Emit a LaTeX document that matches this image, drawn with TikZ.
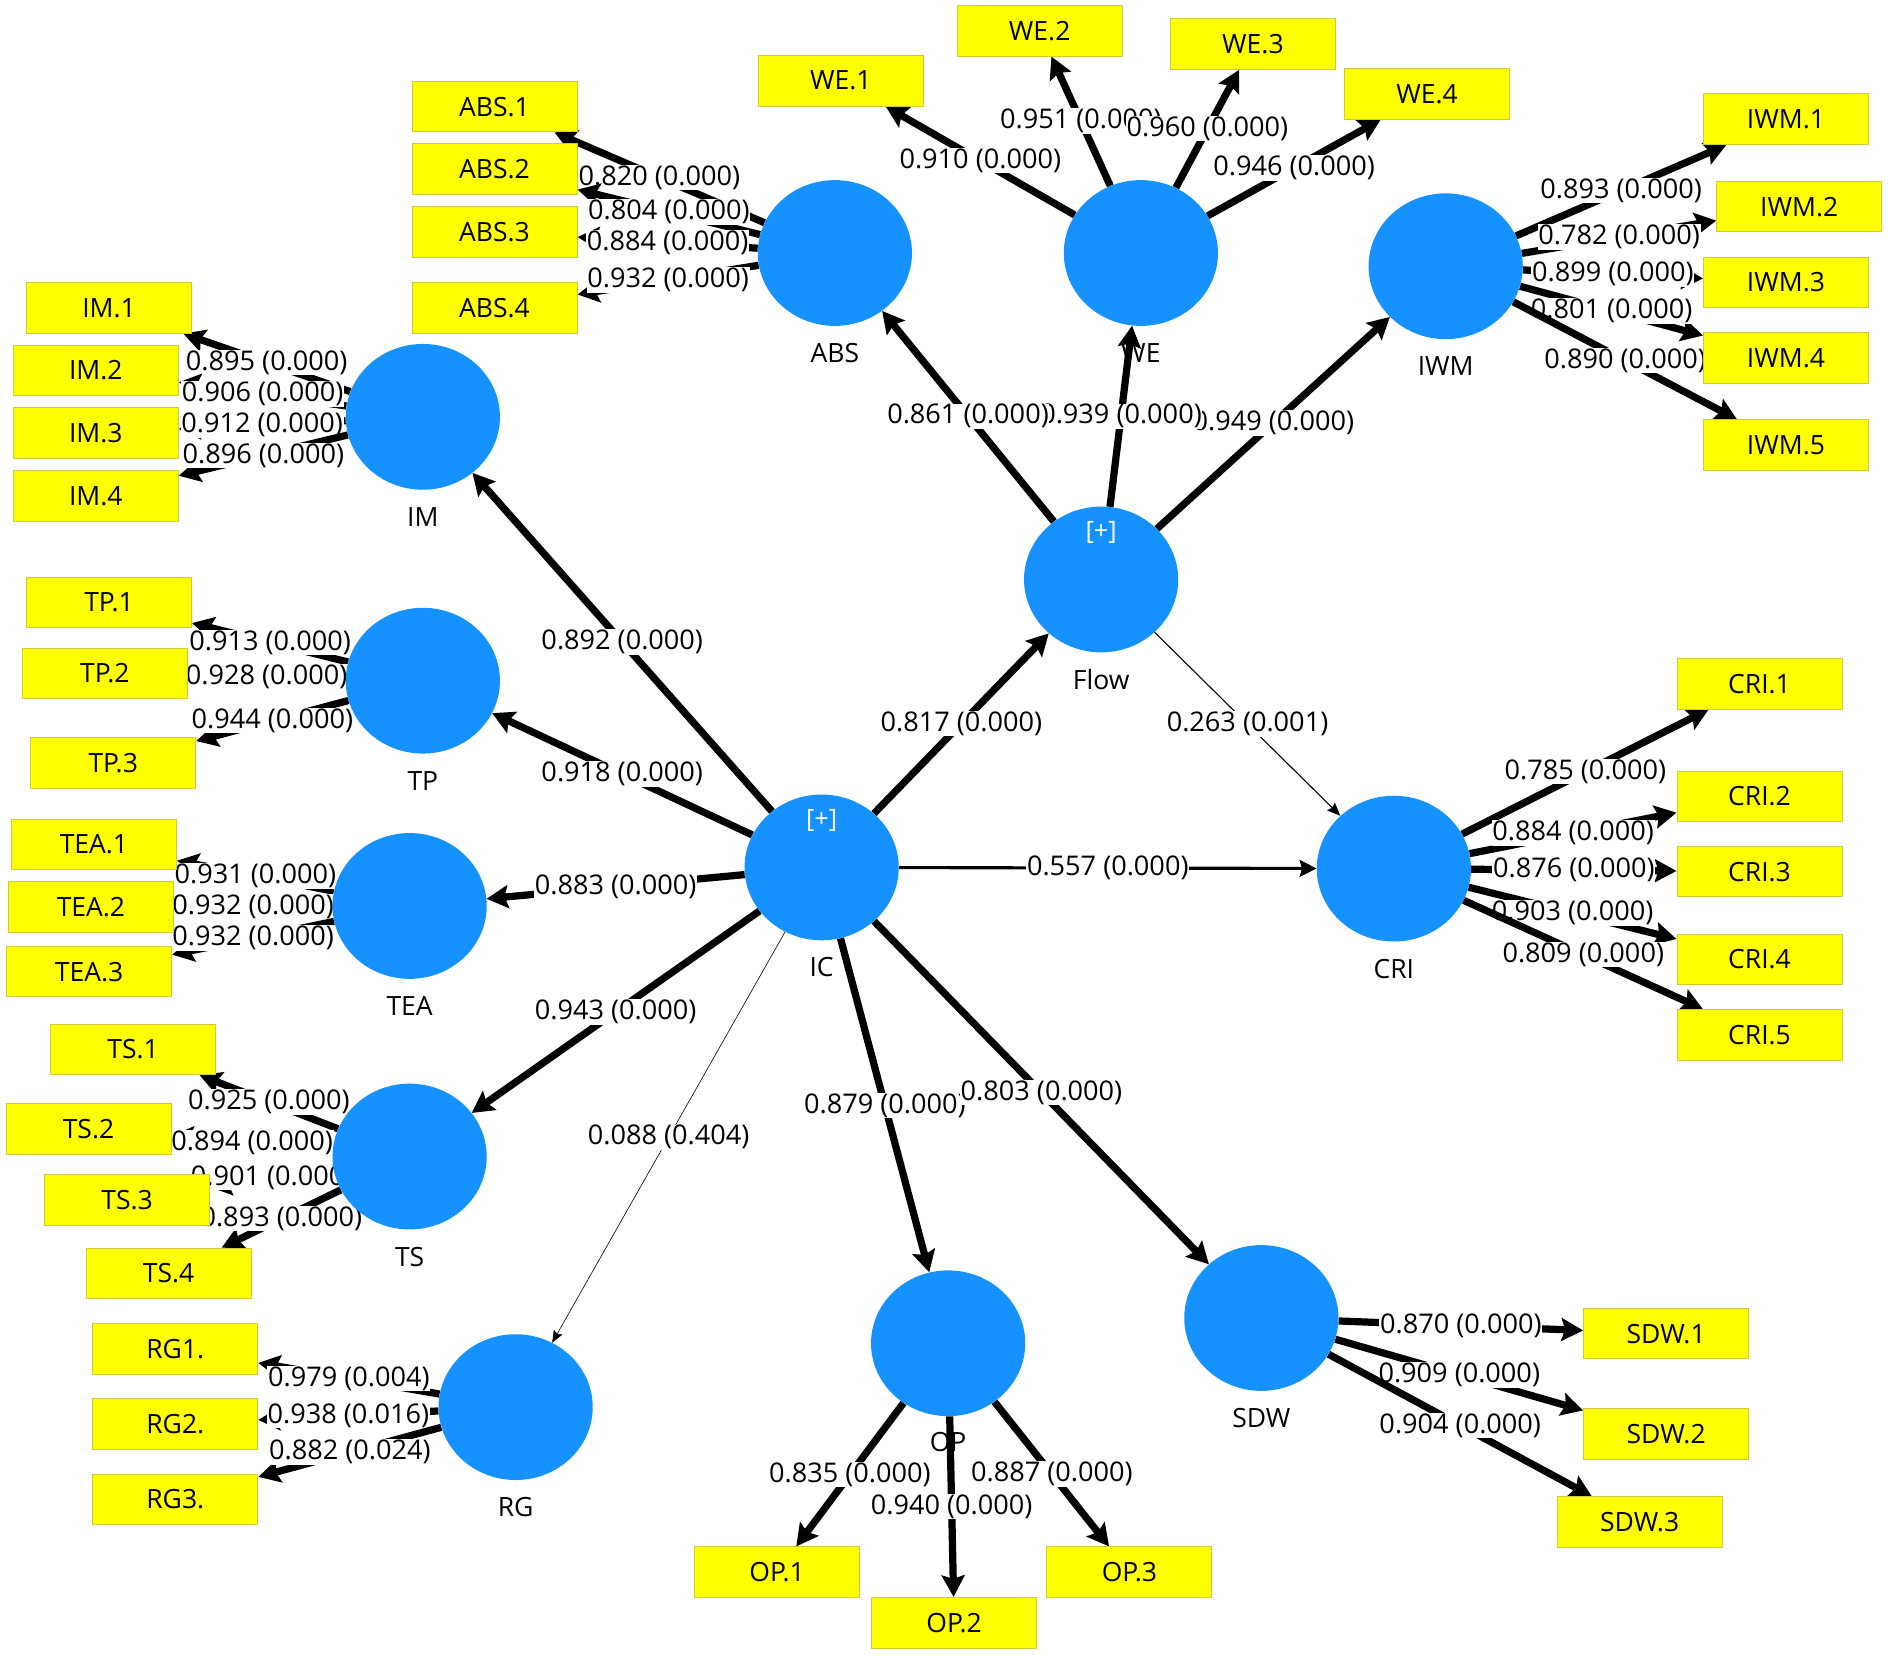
\documentclass[tikz,border=0pt]{standalone}
\usepackage{fontspec}
\newfontfamily\plsfont{Open Sans}
\usetikzlibrary{shapes.geometric,arrows.meta}
\definecolor{plsblue}{RGB}{21,146,255}
\definecolor{indfill}{RGB}{255,255,0}
\definecolor{indline}{RGB}{205,205,60}
\pgfdeclarelayer{bg}
\pgfdeclarelayer{names}
\pgfdeclarelayer{edges}
\pgfsetlayers{bg,names,edges,main}
\tikzset{
  lat/.style={ellipse, fill=plsblue, minimum width=128pt, minimum height=121pt, inner sep=0pt},
  ind/.style={rectangle, fill=indfill, draw=indline, line width=0.8pt, minimum width=137pt, minimum height=42pt, inner sep=0pt, font=\plsfont\fontsize{22}{25}\selectfont},
  latname/.style={font=\plsfont\fontsize{22}{25}\selectfont, inner sep=0pt},
  plus/.style={font=\plsfont\fontsize{21}{24}\selectfont, text=white, inner sep=0pt},
  coef/.style={fill=white, inner sep=0.6pt, font=\plsfont\fontsize{22.5}{25}\selectfont, text=black},
  thick path/.style={line width=6pt, -{Stealth[length=18pt,width=19pt,inset=3pt]}},
  mid path/.style={line width=2.6pt, -{Stealth[length=14pt,width=14pt,inset=2pt]}},
  thin path/.style={line width=0.9pt, -{Stealth[length=11pt,width=9pt,inset=1.5pt]}},
  hair path/.style={line width=0.5pt, -{Stealth[length=10pt,width=8pt,inset=1.5pt]}},
}
\begin{document}
\begin{tikzpicture}[x=1pt,y=-1pt]
\begin{pgfonlayer}{bg}
\fill[white] (0,0) rectangle (1568,1374);
\end{pgfonlayer}
\useasboundingbox (0,0) rectangle (1568,1374);

% ---------- latent variables ----------
\node[lat] (ABS)  at (693,210)  {};
\node[lat] (WE)   at (947,210)  {};
\node[lat] (IWM)  at (1200,221) {};
\node[lat] (IM)   at (351,346)  {};
\node[lat] (Flow) at (914,481)  {};
\node[lat] (TP)   at (351,565)  {};
\node[lat] (IC)   at (682,720)  {};
\node[lat] (CRI)  at (1157,721) {};
\node[lat] (TEA)  at (340,752)  {};
\node[lat] (TS)   at (340,960)  {};
\node[lat] (RG)   at (428,1168) {};
\node[lat] (OP)   at (787,1115) {};
\node[lat] (SDW)  at (1047,1094){};

\node[plus] (ICplus)   at (682,681) {[+]};
\node[plus] (Flowplus) at (914,442) {[+]};

\begin{pgfonlayer}{names}
\node[latname] (ABSn)  at (693,293)  {ABS};
\node[latname] (WEn)   at (947,293)  {WE};
\node[latname] (IWMn)  at (1200,304) {IWM};
\node[latname] (IMn)   at (351,429)  {IM};
\node[latname] (Flown) at (914,564)  {Flow};
\node[latname] (TPn)   at (351,648)  {TP};
\node[latname] (ICn)   at (682,803)  {IC};
\node[latname] (CRIn)  at (1157,804) {CRI};
\node[latname] (TEAn)  at (340,835)  {TEA};
\node[latname] (TSn)   at (340,1043) {TS};
\node[latname] (RGn)   at (428,1251) {RG};
\node[latname] (OPn)   at (787,1197) {OP};
\node[latname] (SDWn)  at (1047,1177){SDW};
\end{pgfonlayer}

% ---------- indicators ----------
\node[ind] (WE1) at (698,67)   {WE.1};
\node[ind] (WE2) at (863,25.5) {WE.2};
\node[ind] (WE3) at (1040,36.5){WE.3};
\node[ind] (WE4) at (1184.5,78){WE.4};
\node[ind] (ABS1) at (410.5,88.5)  {ABS.1};
\node[ind] (ABS2) at (410.5,140.5) {ABS.2};
\node[ind] (ABS3) at (410.5,192.5) {ABS.3};
\node[ind] (ABS4) at (410.5,255.5) {ABS.4};
\node[ind] (IM1) at (90.5,255.5) {IM.1};
\node[ind] (IM2) at (79.5,307.5) {IM.2};
\node[ind] (IM3) at (79.5,359.5) {IM.3};
\node[ind] (IM4) at (79.5,411.5) {IM.4};
\node[ind] (IWM1) at (1482.5,99)  {IWM.1};
\node[ind] (IWM2) at (1493.5,171.5){IWM.2};
\node[ind] (IWM3) at (1482.5,234.5){IWM.3};
\node[ind] (IWM4) at (1482.5,297)  {IWM.4};
\node[ind] (IWM5) at (1482.5,369.5){IWM.5};
\node[ind] (TP1) at (90.5,500)  {TP.1};
\node[ind] (TP2) at (87,559)    {TP.2};
\node[ind] (TP3) at (94,633.5)  {TP.3};
\node[ind] (TEA1) at (78,701)   {TEA.1};
\node[ind] (TEA2) at (75.5,753) {TEA.2};
\node[ind] (TEA3) at (74,806.5) {TEA.3};
\node[ind] (TS1) at (110.5,871)  {TS.1};
\node[ind] (TS2) at (73.5,937)   {TS.2};
\node[ind] (TS3) at (105.5,996)  {TS.3};
\node[ind] (TS4) at (140,1057)   {TS.4};
\node[ind] (RG1) at (145.5,1119.5) {RG1.};
\node[ind] (RG2) at (145.5,1182)   {RG2.};
\node[ind] (RG3) at (145.5,1244.5) {RG3.};
\node[ind] (OP1) at (645,1305)  {OP.1};
\node[ind] (OP2) at (792,1347)  {OP.2};
\node[ind] (OP3) at (937.5,1305){OP.3};
\node[ind] (SDW1) at (1383,1107) {SDW.1};
\node[ind] (SDW2) at (1383,1190.5){SDW.2};
\node[ind] (SDW3) at (1361,1263.5){SDW.3};
\node[ind] (CRI1) at (1460.5,567.5) {CRI.1};
\node[ind] (CRI2) at (1460.5,661)   {CRI.2};
\node[ind] (CRI3) at (1460.5,723.5) {CRI.3};
\node[ind] (CRI4) at (1460.5,796.5) {CRI.4};
\node[ind] (CRI5) at (1460.5,859)   {CRI.5};

% ---------- connectors ----------
\begin{pgfonlayer}{edges}
% structural model
\draw[thick path] (Flow) -- node[coef]{0.949 (0.000)} (IWM);
\draw[thick path] (Flow) -- node[coef]{0.939 (0.000)} (WE);
\draw[thick path] (Flow) -- node[coef]{0.861 (0.000)} (ABS);
\draw[thin path]  (Flow) -- node[coef]{0.263 (0.001)} (CRI);
\draw[thick path] (IC) -- node[coef]{0.817 (0.000)} (Flow);
\draw[mid path]   (IC) -- node[coef]{0.557 (0.000)} (CRI);
\draw[thick path] (IC) -- node[coef]{0.892 (0.000)} (IM);
\draw[thick path] (IC) -- node[coef]{0.918 (0.000)} (TP);
\draw[thick path] (IC) -- node[coef]{0.883 (0.000)} (TEA);
\draw[thick path] (IC) -- node[coef]{0.943 (0.000)} (TS);
\draw[hair path]  (IC) -- node[coef]{0.088 (0.404)} (RG);
\draw[thick path] (IC) -- node[coef]{0.879 (0.000)} (OP);
\draw[thick path] (IC) -- node[coef]{0.803 (0.000)} (SDW);
% WE
\draw[thick path] (WE) -- node[coef]{0.910 (0.000)} (WE1);
\draw[thick path] (WE) -- node[coef]{0.951 (0.000)} (WE2);
\draw[thick path] (WE) -- node[coef]{0.960 (0.000)} (WE3);
\draw[thick path] (WE) -- node[coef]{0.946 (0.000)} (WE4);
% ABS
\draw[thick path] (ABS) -- node[coef]{0.820 (0.000)} (ABS1);
\draw[thick path] (ABS) -- node[coef]{0.804 (0.000)} (ABS2);
\draw[thick path] (ABS) -- node[coef]{0.884 (0.000)} (ABS3);
\draw[thick path] (ABS) -- node[coef]{0.932 (0.000)} (ABS4);
% IWM
\draw[thick path] (IWM) -- node[coef]{0.893 (0.000)} (IWM1);
\draw[thick path] (IWM) -- node[coef]{0.782 (0.000)} (IWM2);
\draw[thick path] (IWM) -- node[coef]{0.899 (0.000)} (IWM3);
\draw[thick path] (IWM) -- node[coef]{0.801 (0.000)} (IWM4);
\draw[thick path] (IWM) -- node[coef]{0.890 (0.000)} (IWM5);
% IM
\draw[thick path] (IM) -- node[coef]{0.895 (0.000)} (IM1);
\draw[thick path] (IM) -- node[coef]{0.906 (0.000)} (IM2);
\draw[thick path] (IM) -- node[coef]{0.912 (0.000)} (IM3);
\draw[thick path] (IM) -- node[coef]{0.896 (0.000)} (IM4);
% TP
\draw[thick path] (TP) -- node[coef]{0.913 (0.000)} (TP1);
\draw[thick path] (TP) -- node[coef]{0.928 (0.000)} (TP2);
\draw[thick path] (TP) -- node[coef]{0.944 (0.000)} (TP3);
% TEA
\draw[thick path] (TEA) -- node[coef]{0.931 (0.000)} (TEA1);
\draw[thick path] (TEA) -- node[coef]{0.932 (0.000)} (TEA2);
\draw[thick path] (TEA) -- node[coef]{0.932 (0.000)} (TEA3);
% TS
\draw[thick path] (TS) -- node[coef]{0.925 (0.000)} (TS1);
\draw[thick path] (TS) -- node[coef]{0.894 (0.000)} (TS2);
\draw[thick path] (TS) -- node[coef]{0.901 (0.000)} (TS3);
\draw[thick path] (TS) -- node[coef]{0.893 (0.000)} (TS4);
% RG
\draw[thick path] (RG) -- node[coef]{0.979 (0.004)} (RG1);
\draw[thick path] (RG) -- node[coef]{0.938 (0.016)} (RG2);
\draw[thick path] (RG) -- node[coef]{0.882 (0.024)} (RG3);
% OP
\draw[thick path] (OP) -- node[coef]{0.835 (0.000)} (OP1);
\draw[thick path] (OP) -- node[coef]{0.940 (0.000)} (OP2);
\draw[thick path] (OP) -- node[coef]{0.887 (0.000)} (OP3);
% SDW
\draw[thick path] (SDW) -- node[coef]{0.870 (0.000)} (SDW1);
\draw[thick path] (SDW) -- node[coef]{0.909 (0.000)} (SDW2);
\draw[thick path] (SDW) -- node[coef]{0.904 (0.000)} (SDW3);
% CRI
\draw[thick path] (CRI) -- node[coef]{0.785 (0.000)} (CRI1);
\draw[thick path] (CRI) -- node[coef]{0.884 (0.000)} (CRI2);
\draw[thick path] (CRI) -- node[coef]{0.876 (0.000)} (CRI3);
\draw[thick path] (CRI) -- node[coef]{0.903 (0.000)} (CRI4);
\draw[thick path] (CRI) -- node[coef]{0.809 (0.000)} (CRI5);
\end{pgfonlayer}
\end{tikzpicture}
\end{document}
